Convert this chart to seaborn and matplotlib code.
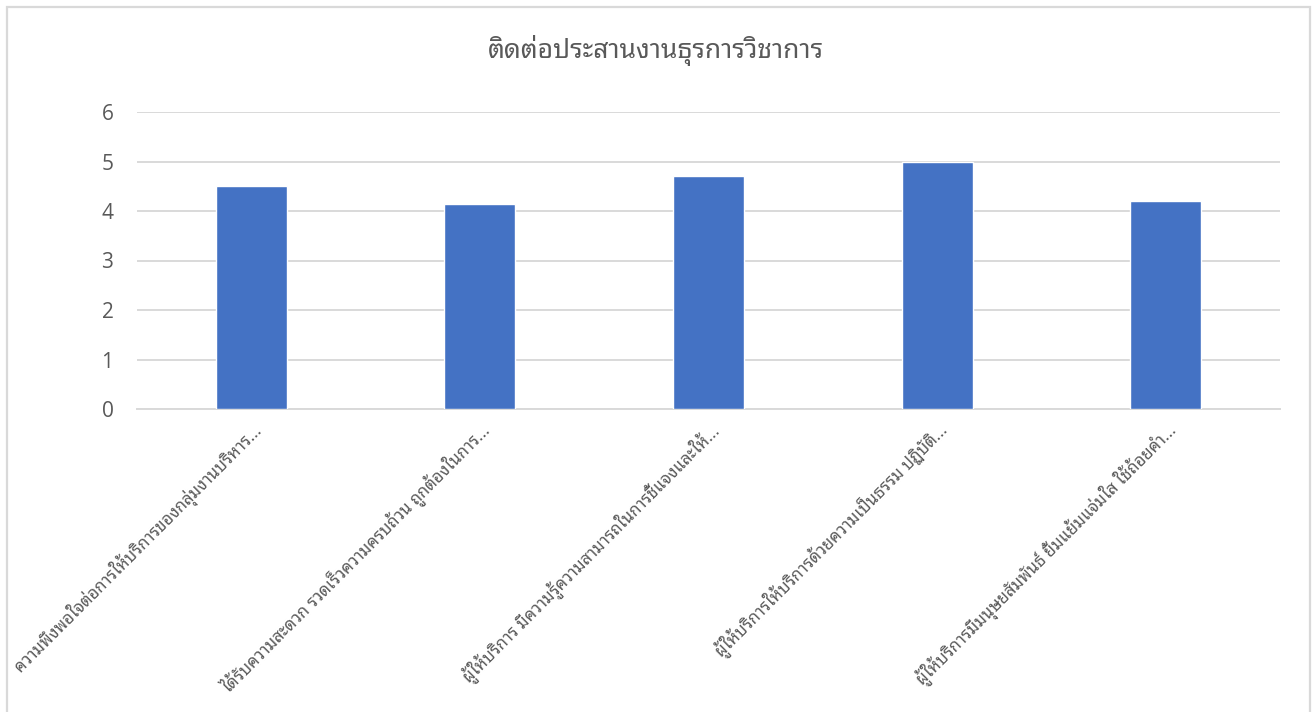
import matplotlib
matplotlib.use("Agg")
import matplotlib.pyplot as plt
import seaborn as sns
import pandas as pd
from matplotlib import font_manager
from matplotlib.ft2font import FT2Font

title = "ติดต่อประสานงานธุรการวิชาการ"
categories = [
    "ความพึงพอใจต่อการให้บริการของกลุ่มงานบริหาร...",
    "ได้รับความสะดวก รวดเร็วความครบถ้วน ถูกต้องในการ...",
    "ผู้ให้บริการ มีความรู้ความสามารถในการชี้แจงและให้...",
    "ผู้ให้บริการให้บริการด้วยความเป็นธรรม ปฏิบัติ...",
    "ผู้ให้บริการมีมนุษยสัมพันธ์ ยิ้มแย้มแจ่มใส ใช้ถ้อยคำ...",
]
scores = [4.5, 4.14, 4.7, 5.0, 4.2]
y_ticks = [0, 1, 2, 3, 4, 5, 6]


def covers_thai(path):
    try:
        return FT2Font(path).get_char_index(ord("ก")) != 0
    except Exception:
        return False


installed = {e.name: e.fname for e in font_manager.fontManager.ttflist}
preferred = ["Noto Sans Thai Looped", "IBM Plex Sans Thai Looped", "Loma"]
thai_family = [f for f in preferred if f in installed and covers_thai(installed[f])]
thai_family += [n for n, p in installed.items() if n not in thai_family and covers_thai(p)][:1]
text_family = thai_family + ["Open Sans", "DejaVu Sans"]

sns.set_theme(style="white")
plt.rcParams["font.family"] = text_family

GREY = "#595959"
LINE = "#d9d9d9"

df = pd.DataFrame({"category": categories, "score": scores})

fig = plt.figure(figsize=(13.12, 7.12), dpi=100)
ax = fig.add_axes([137 / 1312, 1 - 409 / 712, (1280 - 137) / 1312, (409 - 112) / 712])

sns.barplot(data=df, x="category", y="score", color="#4472C4", width=0.31,
            saturation=1, ax=ax, zorder=3)

ax.set_ylim(0, 6)
ax.set_xlim(-0.5, len(categories) - 0.5)
ax.set_yticks(y_ticks)
ax.set_yticklabels([str(v) for v in y_ticks], family=["Open Sans", "DejaVu Sans"],
                   fontsize=15, color=GREY)
ax.yaxis.grid(True, color=LINE, linewidth=1.4, zorder=0)
ax.set_axisbelow(True)
for side in ["top", "right", "left"]:
    ax.spines[side].set_visible(False)
ax.spines["bottom"].set_color(LINE)
ax.spines["bottom"].set_linewidth(1.4)
ax.tick_params(axis="both", length=0)
ax.tick_params(axis="y", pad=17)
ax.set_xticks(range(len(categories)))
ax.set_xticklabels(categories, rotation=45, ha="right", rotation_mode="anchor",
                   fontsize=12, fontweight="light", color=GREY)
ax.tick_params(axis="x", pad=8)
ax.set_xlabel("")
ax.set_ylabel("")

fig.text(0.5, 1 - 50 / 712, title, ha="center", va="center", fontsize=19,
         fontweight="light", color=GREY)

border = plt.Rectangle((6.5 / 1312, -10 / 712), 1303 / 1312, (712 - 6.5 + 10) / 712,
                       transform=fig.transFigure, fill=False, edgecolor=LINE, linewidth=1.6)
fig.patches.append(border)

fig.savefig("out.png", dpi=100, facecolor="white")
